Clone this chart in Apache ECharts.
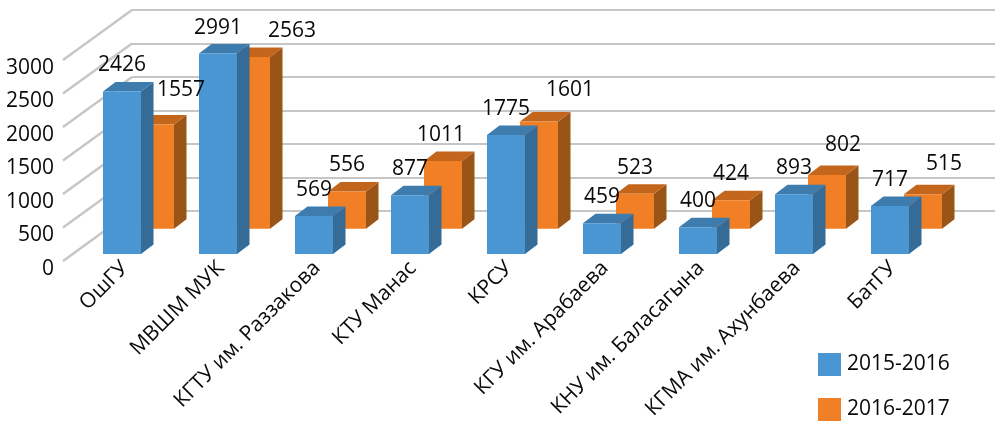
<!DOCTYPE html>
<html><head><meta charset="utf-8">
<style>html,body{margin:0;padding:0;background:#fff}#c{width:1001px;height:422px}</style>
<script src="https://cdn.jsdelivr.net/npm/echarts@6/dist/echarts.min.js"></script>
</head><body><div id="c"></div>
<script>
const categories = ['ОшГУ','МВШМ МУК','КГТУ им. Раззакова','КТУ Манас','КРСУ','КГУ им. Арабаева','КНУ им. Баласагына','КГМА им. Ахунбаева','БатГУ'];
const values2015 = [2426,2991,569,877,1775,459,400,893,717];
const values2017 = [1557,2563,556,1011,1601,523,424,802,515];
const valueTicks = [0,500,1000,1500,2000,2500,3000];
const seriesNames = ['2015-2016','2016-2017'];

const FONT = '"Open Sans"', FS = 21, TEXT = '#0a0a0a', GRIDC = '#C6C6C6';
const WALL = {dx:69, dy:-50};        // depth of the chart floor
const BAR = {w:0.396, dx:12.5, dy:-9.5};
const ROW1 = {dx:0, dy:0};
const ROW2 = {dx:33, dy:-25.3};      // second row sits behind the first
const BLUE = {front:'#4A96D2', top:'#3E7CAE', side:'#366B97'};
const ORANGE = {front:'#F07F26', top:'#C3661C', side:'#995416'};
// hand-moved data labels in the second row: [dx, dy]
const nudge2 = {0:[26,-8],1:[41,0],3:[-2,0],4:[31,-5],7:[16,-4],8:[21,-4]};

function frontRect(api, off){
  const i = api.value(0), v = api.value(1);
  const top = api.coord([i, v]), base = api.coord([i, 0]);
  const w = api.size([1,0])[0]*BAR.w;
  const x0 = top[0]-w/2+off.dx;
  return {i, v, x0, x1:x0+w, yT:top[1]+off.dy, yB:base[1]+off.dy};
}
function bar3d(pal, off){
  return function(params, api){
    const {x0,x1,yT,yB} = frontRect(api, off), d = BAR;
    const poly = (pts, c) => ({type:'polygon', shape:{points:pts}, style:{fill:c}});
    return {type:'group', children:[
      poly([[x1,yT],[x1+d.dx,yT+d.dy],[x1+d.dx,yB+d.dy],[x1,yB]], pal.side),
      poly([[x0,yT],[x0+d.dx,yT+d.dy],[x1+d.dx,yT+d.dy],[x1,yT]], pal.top),
      poly([[x0,yT],[x1,yT],[x1,yB],[x0,yB]], pal.front)
    ]};
  };
}
function barLabel(off, nudge){
  return function(params, api){
    const {i,v,x0,x1,yT} = frontRect(api, off), n = nudge[i] || [0,0];
    return {type:'text', style:{text:String(v), x:(x0+x1)/2+n[0], y:yT-26+n[1],
      align:'center', verticalAlign:'middle', fill:TEXT, font:FS+'px '+FONT}};
  };
}
const pairs = vals => vals.map((v,i)=>[i,v]);

const chart = echarts.init(document.getElementById('c'), null, {renderer:'canvas'});
chart.setOption({
  animation:false,
  backgroundColor:'#fff',
  textStyle:{fontFamily:FONT},
  legend:{orient:'vertical', left:818, top:353, padding:0, itemWidth:23, itemHeight:23, itemGap:22,
    icon:'rect', data:seriesNames, textStyle:{fontFamily:FONT, fontSize:FS, color:TEXT, padding:[0,0,0,1]}},
  grid:[
    {left:132, top:10, width:863, height:201},   // back wall
    {left:63, top:60, width:69, height:201},     // side wall front edge
    {left:74, top:53, width:864, height:201},    // front row of bars
    {left:63, top:68, width:69, height:201},     // value labels
    {left:77, top:58, width:864, height:201}     // category labels
  ],
  xAxis:[
    {gridIndex:0, type:'value', show:false},
    {gridIndex:1, type:'value', show:false, min:0, max:1},
    {gridIndex:2, type:'category', data:categories, show:false},
    {gridIndex:3, type:'value', show:false, min:0, max:1},
    {gridIndex:4, type:'category', data:categories,
      axisLine:{show:false}, axisTick:{show:false},
      axisLabel:{rotate:45, margin:8, interval:0, fontFamily:FONT, fontSize:21, color:TEXT}}
  ],
  yAxis:[
    {gridIndex:0, type:'value', min:0, max:3000, interval:500,
      axisLabel:{show:false}, axisLine:{show:false}, axisTick:{show:false},
      splitLine:{lineStyle:{color:GRIDC, width:2}}},
    {gridIndex:1, type:'value', min:0, max:3000, interval:500, show:false},
    {gridIndex:2, type:'value', min:0, max:3000, interval:500, show:false},
    {gridIndex:3, type:'value', min:0, max:3000, interval:500,
      axisLine:{show:false}, axisTick:{show:false}, splitLine:{show:false},
      axisLabel:{margin:9, fontFamily:FONT, fontSize:FS, color:TEXT, formatter:v=>String(v)}},
    {gridIndex:4, type:'value', min:0, max:3000, interval:500, show:false}
  ],
  series:[
    {type:'custom', xAxisIndex:1, yAxisIndex:1, silent:true, z:1,
      data:valueTicks.map(t=>[0,t]),
      renderItem(p,api){
        const a = api.coord([0, api.value(1)]);
        return {type:'line', shape:{x1:a[0],y1:a[1],x2:a[0]+WALL.dx,y2:a[1]+WALL.dy},
          style:{stroke:GRIDC, lineWidth:2.4}};
      }},
    {type:'custom', name:seriesNames[1], xAxisIndex:2, yAxisIndex:2, z:3,
      itemStyle:{color:ORANGE.front}, data:pairs(values2017),
      encode:{x:0,y:1}, renderItem:bar3d(ORANGE, ROW2)},
    {type:'custom', name:seriesNames[0], xAxisIndex:2, yAxisIndex:2, z:4,
      itemStyle:{color:BLUE.front}, data:pairs(values2015),
      encode:{x:0,y:1}, renderItem:bar3d(BLUE, ROW1)},
    {type:'custom', xAxisIndex:2, yAxisIndex:2, z:5, silent:true, data:pairs(values2017),
      encode:{x:0,y:1}, renderItem:barLabel(ROW2, nudge2)},
    {type:'custom', xAxisIndex:2, yAxisIndex:2, z:5, silent:true, data:pairs(values2015),
      encode:{x:0,y:1}, renderItem:barLabel(ROW1, {})}
  ]
});
</script></body></html>
